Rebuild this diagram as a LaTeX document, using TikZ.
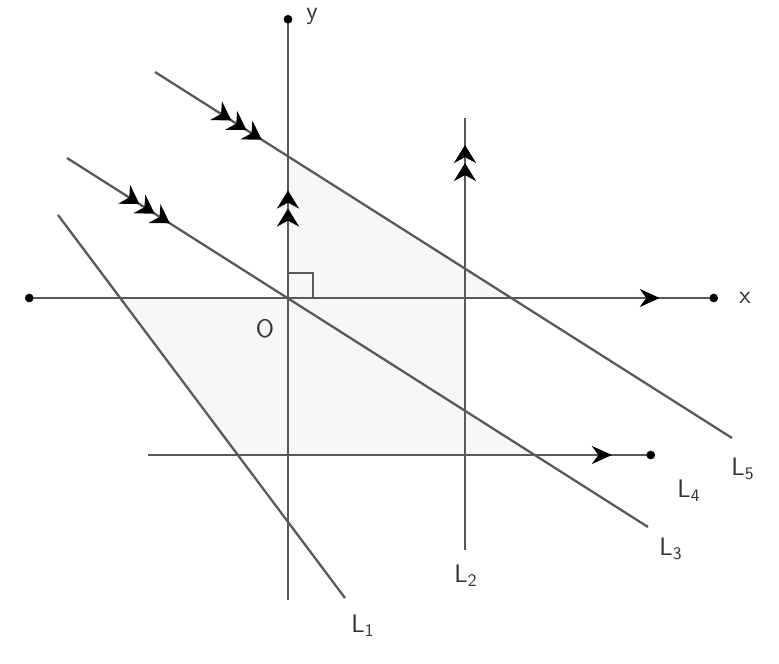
\documentclass[tikz,border=0pt]{standalone}
\usetikzlibrary{arrows.meta,decorations.markings}

\tikzset{
	line/.style={draw=black!65, line width=1.3pt},
	lab/.style={font=\sffamily\Large, text=black!80},
	dot/.style={{Circle[length=1.7mm,black]}-{Circle[length=1.7mm,black]}},
	one/.style={postaction={decorate}, decoration={markings,
		mark=at position #1 with {\arrow{Stealth[length=4mm,width=3.6mm,black]}}}},
	two/.style={postaction={decorate}, decoration={markings,
		mark=at position #1 with {\arrow{Stealth[length=3.6mm,width=4.4mm,black]Stealth[length=3.6mm,width=4.4mm,black]}}}},
	three/.style={postaction={decorate}, decoration={markings,
		mark=at position #1 with {\arrow{Stealth[length=3.6mm,width=4.4mm,black]Stealth[length=3.6mm,width=4.4mm,black]Stealth[length=3.6mm,width=4.4mm,black]}}}}
}

\begin{document}
\begin{tikzpicture}
\useasboundingbox (-5.76,-7.32) rectangle (9.82,5.96);

% Ends of the lines
\coordinate (O) at (0,0);
\coordinate (xl) at (-5.26,0);
\coordinate (xr) at (8.6,0);
\coordinate (yb) at (0,-6.04);
\coordinate (yt) at (0,5.66);
\coordinate (Aa) at (-4.6,1.66);
\coordinate (Ab) at (1.14,-6.0);
\coordinate (Ba) at (3.54,3.6);
\coordinate (Bb) at (3.54,-5.04);
\coordinate (Ca) at (-4.42,2.8);
\coordinate (Cb) at (7.2,-4.58);
\coordinate (Da) at (-2.8,-3.14);
\coordinate (Db) at (7.34,-3.14);
\coordinate (Ea) at (-2.66,4.52);
\coordinate (Eb) at (8.88,-2.8);

% Shaded parts
\fill[gray!6] (O) -- (intersection of O--yt and Ea--Eb)
	-- (intersection of Ea--Eb and xl--xr) -- cycle;
\fill[gray!6] (intersection of Aa--Ab and xl--xr) -- (intersection of Ba--Bb and xl--xr)
	-- (intersection of Ba--Bb and Ca--Cb) -- (intersection of Ca--Cb and Da--Db)
	-- (intersection of Aa--Ab and Da--Db) -- cycle;

% Axes
\draw[line, dot, one=0.916] (xl) -- (xr);
\draw[line, -{Circle[length=1.7mm,black]}, two=0.70] (yb) -- (yt);
\draw[line, line width=0.9pt] (0,0.5) -- (0.5,0.5) -- (0.5,0);

% Lines
\draw[line] (Aa) -- (Ab);
\draw[line, two=0.9375] (Bb) -- (Ba);
\draw[line, three=0.177] (Ca) -- (Cb);
\draw[line, -{Circle[length=1.7mm,black]}, one=0.915] (Da) -- (Db);
\draw[line, three=0.185] (Ea) -- (Eb);

% Labels
\node[lab] (ox) at (9.14,0) {x};
\node[lab] (oy) at (0.48,5.64) {y};
\node[lab] (oo) at (-0.46,-0.62) {O};
\node[lab] (l1) at (1.5,-6.56) {L\textsubscript{1}};
\node[lab] (l2) at (3.56,-5.56) {L\textsubscript{2}};
\node[lab] (l3) at (7.66,-5.02) {L\textsubscript{3}};
\node[lab] (l4) at (8.02,-3.86) {L\textsubscript{4}};
\node[lab] (l5) at (9.1,-3.42) {L\textsubscript{5}};
\end{tikzpicture}
\end{document}
